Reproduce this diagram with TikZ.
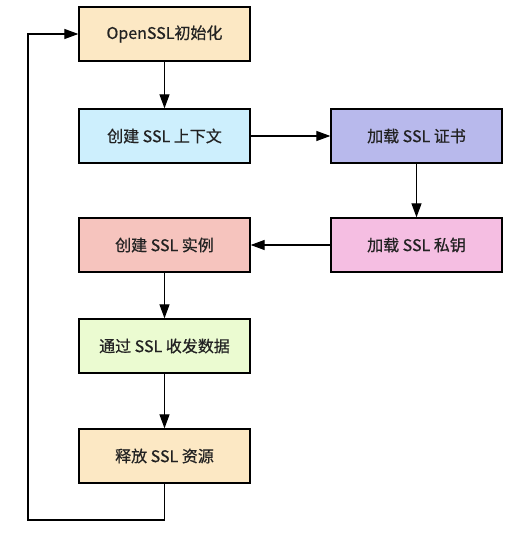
\documentclass[tikz,border=0pt]{standalone}
\usepackage{fontspec}
\newfontfamily\cjk[FakeBold=0.6]{Noto Sans CJK SC}
\usetikzlibrary{arrows.meta,positioning}

\definecolor{initcol}{HTML}{FCE8C4}
\definecolor{ctxcol}{HTML}{CDEFFD}
\definecolor{certcol}{HTML}{B8B9EC}
\definecolor{keycol}{HTML}{F5BEE2}
\definecolor{sslcol}{HTML}{F6C4BE}
\definecolor{datacol}{HTML}{EBFBD1}
\definecolor{freecol}{HTML}{FCE8C4}
\definecolor{txtcol}{HTML}{222222}

\tikzset{
	stepbox/.style={draw, line width=1.3pt, minimum width=171pt, minimum height=54pt,
		inner sep=0pt, text=txtcol, font=\cjk\fontsize{16}{18}\selectfont},
	arr/.style={line width=1.2pt, -{Triangle[length=14pt,width=10pt]}}
}

\begin{document}
\begin{tikzpicture}[x=1pt,y=-1pt]
	\useasboundingbox (0,0) rectangle (526,534);
	\node[stepbox, fill=initcol] (0) at (164.5, 34) {OpenSSL初始化};
	\node[stepbox, fill=ctxcol] (1) at (164.5, 136) {创建 SSL 上下文};
	\node[stepbox, fill=certcol] (2) at (416.5, 136) {加载 SSL 证书};
	\node[stepbox, fill=keycol] (3) at (416.5, 245) {加载 SSL 私钥};
	\node[stepbox, fill=sslcol] (4) at (164.5, 245) {创建 SSL 实例};
	\node[stepbox, fill=datacol] (5) at (164.5, 346) {通过 SSL 收发数据};
	\node[stepbox, fill=freecol] (6) at (164.5, 456) {释放 SSL 资源};
	\coordinate (7) at (28, 520);
	\draw [arr] (0) to (1);
	\draw [arr] (1) to (2);
	\draw [arr] (2) to (3);
	\draw [arr] (3) to (4);
	\draw [arr] (4) to (5);
	\draw [arr] (5) to (6);
	\draw [arr] (6.south) |- (7) |- (0.west);
\end{tikzpicture}
\end{document}
